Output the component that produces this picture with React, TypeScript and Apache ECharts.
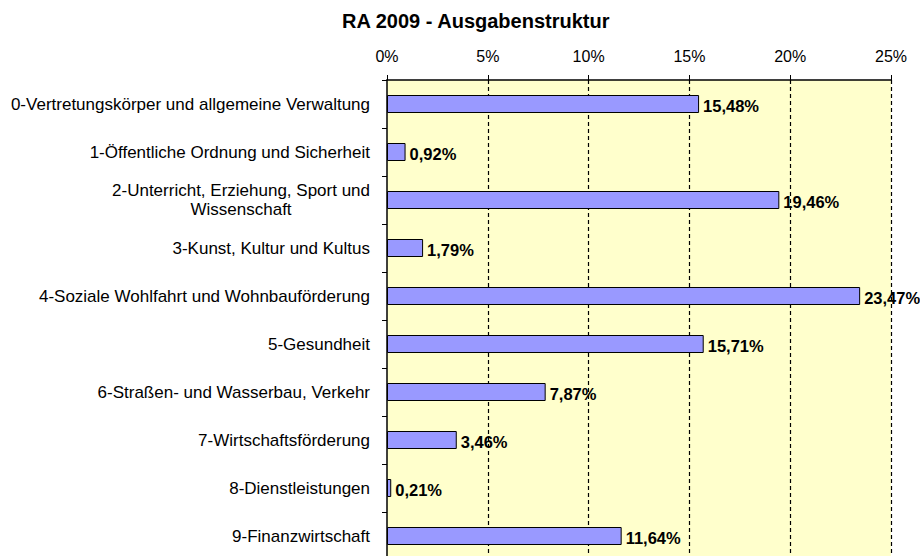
import React, { useEffect, useRef } from "react";
import * as echarts from "echarts";

const title = "RA 2009 - Ausgabenstruktur";
const categories = [
  "0-Vertretungskörper und allgemeine Verwaltung",
  "1-Öffentliche Ordnung und Sicherheit",
  "2-Unterricht, Erziehung, Sport und\nWissenschaft",
  "3-Kunst, Kultur und Kultus",
  "4-Soziale Wohlfahrt und Wohnbauförderung",
  "5-Gesundheit",
  "6-Straßen- und Wasserbau, Verkehr",
  "7-Wirtschaftsförderung",
  "8-Dienstleistungen",
  "9-Finanzwirtschaft",
];
const values = [15.48, 0.92, 19.46, 1.79, 23.47, 15.71, 7.87, 3.46, 0.21, 11.64];
const axisMin = 0;
const axisMax = 25;
const axisStep = 5;

const FONT = "'Liberation Sans', Arial, sans-serif";

export default function App() {
  const ref = useRef<HTMLDivElement>(null);
  useEffect(() => {
    if (!ref.current) return;
    const chart = echarts.init(ref.current, null, { renderer: "svg" });
    chart.setOption({
      animation: false,
      backgroundColor: "#ffffff",
      title: {
        text: title,
        left: 342,
        top: 11,
        padding: 0,
        textStyle: { fontFamily: FONT, fontSize: 20, fontWeight: "bold", color: "#000" },
      },
      grid: {
        left: 387,
        right: 29,
        top: 80,
        bottom: -4,
        show: true,
        backgroundColor: "#FFFFCC",
        borderWidth: 0,
        containLabel: false,
        outerBoundsMode: "none",
      },
      xAxis: {
        type: "value",
        position: "top",
        min: axisMin,
        max: axisMax,
        interval: axisStep,
        axisLine: { show: true, lineStyle: { color: "#000", width: 1.5 } },
        axisTick: { show: true, inside: false, length: 5, lineStyle: { color: "#000", width: 1 } },
        axisLabel: {
          margin: 16,
          fontFamily: FONT,
          fontSize: 16,
          color: "#000",
          formatter: (v: number) => `${v}%`,
        },
        splitLine: {
          show: true,
          showMinLine: false,
          showMaxLine: true,
          lineStyle: { color: "#000", type: [4, 3], width: 1.2 },
        },
      },
      yAxis: {
        type: "category",
        inverse: true,
        data: categories,
        axisLine: { show: true, lineStyle: { color: "#000", width: 1.5 } },
        axisTick: { show: true, inside: false, length: 5, lineStyle: { color: "#000", width: 1 } },
        axisLabel: {
          margin: 17,
          interval: 0,
          align: "right",
          formatter: (v: string) =>
            v
              .split("\n")
              .map((l) => `{c|${l}}`)
              .join("\n"),
          rich: {
            c: {
              align: "center",
              fontFamily: FONT,
              fontSize: 17,
              lineHeight: 19,
              color: "#000",
            },
          },
        },
        splitLine: { show: false },
      },
      series: [
        {
          type: "bar",
          data: values,
          barWidth: 18,
          itemStyle: { color: "#9999FF", borderColor: "#000", borderWidth: 1 },
          label: {
            show: true,
            position: "right",
            distance: 4,
            offset: [0, 2],
            fontFamily: FONT,
            fontSize: 16.5,
            fontWeight: "bold",
            color: "#000",
            formatter: (p: any) => `${p.value.toFixed(2).replace(".", ",")}%`,
          },
        },
      ],
    });
    return () => chart.dispose();
  }, []);
  return (
    <div
      ref={ref}
      style={{ position: "fixed", left: 0, top: 0, width: 920, height: 556 }}
    />
  );
}
